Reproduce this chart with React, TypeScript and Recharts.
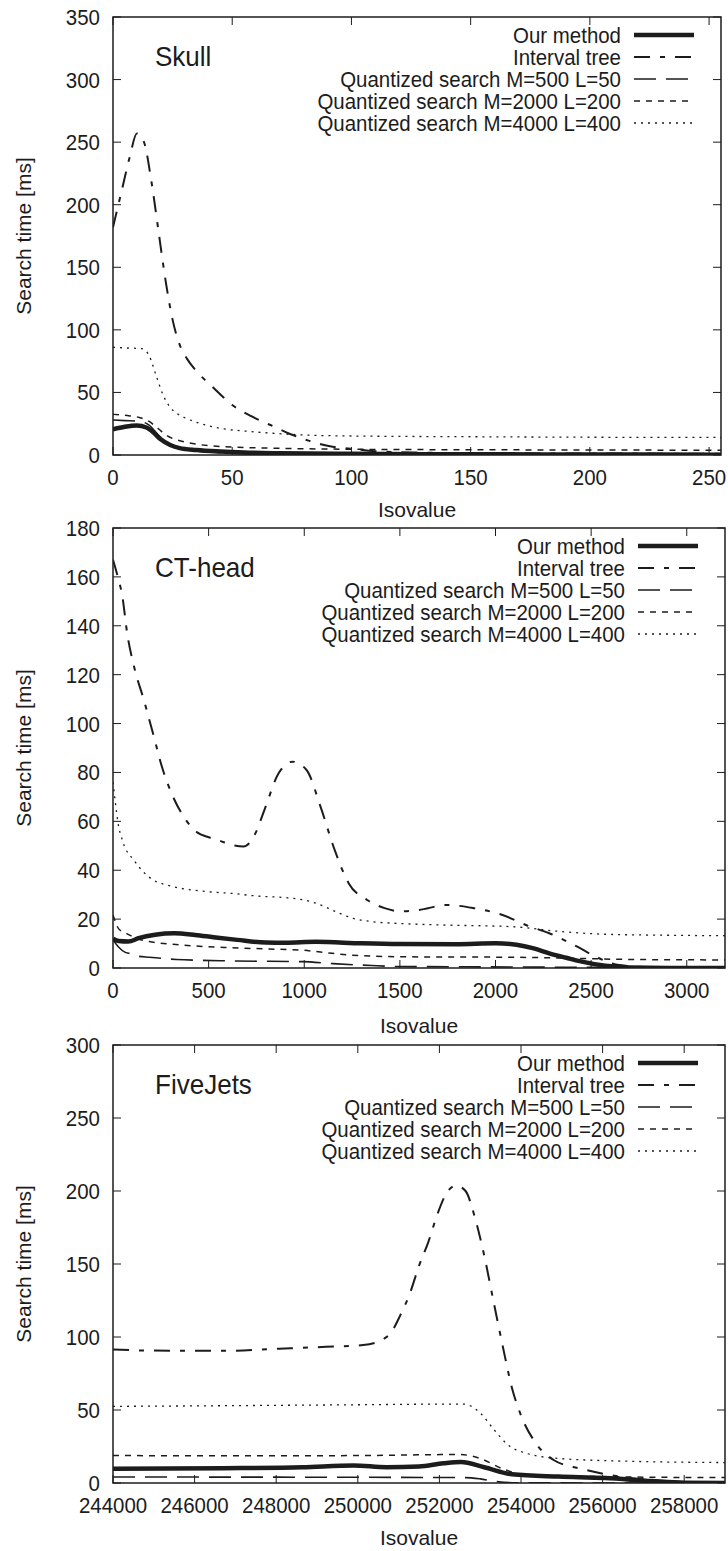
import React from 'react';
import { LineChart, Line, XAxis, YAxis, Legend, ReferenceArea } from 'recharts';

const FONT = "'Liberation Sans', Arial, Helvetica, sans-serif";
const INK = '#1c1c1c';

type Pt = [number, number];

// series names, same order in every panel
const NAMES = [
  'Our method',
  'Interval tree',
  'Quantized search M=500 L=50',
  'Quantized search M=2000 L=200',
  'Quantized search M=4000 L=400',
];

// ---- Skull
const skullOurs: Pt[] = [[0, 20.5], [5, 22.5], [10, 23.5], [14, 22], [17, 18], [20, 12.5], [24, 8], [28, 5.5], [35, 4], [45, 2.8], [55, 2], [70, 1.4], [100, 0.9], [150, 0.6], [200, 0.4], [255, 0.3]];
const skullTree: Pt[] = [[0, 182], [3.5, 210], [7, 238], [10, 257], [13, 250], [16, 220], [19, 180], [22, 140], [25, 108], [28, 88], [31, 77], [35, 67], [42, 54], [50, 40], [58, 31], [66, 24], [74, 17], [82, 11.5], [91, 7], [100, 5], [110, 3], [125, 2], [150, 1.5], [200, 1.2], [255, 1]];
const skullQ500: Pt[] = [[0, 28], [5, 27.5], [11, 27], [15, 24], [19, 16], [23, 9], [28, 5], [35, 3], [45, 1.8], [60, 1], [100, 0.6], [255, 0.3]];
const skullQ2000: Pt[] = [[0, 32.5], [6, 31.5], [11, 30], [15, 27], [19, 21], [23, 15], [27, 12], [31, 10], [40, 7.5], [55, 6], [70, 5.3], [100, 4.6], [150, 4.2], [200, 4], [255, 3.8]];
const skullQ4000: Pt[] = [[0, 86], [6, 85.5], [12, 85], [15, 80], [18, 64], [21, 48], [24, 38], [27, 33], [31, 29], [36, 25.5], [46, 21], [56, 19], [66, 17.5], [80, 16], [100, 15.2], [150, 14.6], [200, 14.2], [255, 14]];

// ---- CT-head
const ctOurs: Pt[] = [[0, 12], [30, 11], [80, 10.8], [134, 12.2], [220, 13.6], [320, 14.2], [430, 13.5], [525, 12.6], [650, 11.5], [800, 10.4], [900, 10.3], [1060, 10.7], [1300, 10.1], [1500, 9.8], [1793, 9.7], [2000, 10.1], [2110, 9.5], [2200, 8], [2281, 6], [2370, 4.2], [2452, 2.6], [2574, 0.9], [2700, 0.2], [2900, 0], [3200, 0]];
const ctTree: Pt[] = [[0, 167], [25, 160], [49, 152], [74, 137], [111, 123], [160, 110], [209, 96], [257, 82], [306, 71.5], [377, 61], [440, 55.5], [500, 53.5], [560, 52], [622, 50.3], [683, 49.7], [744, 55], [792, 64.7], [866, 79.7], [939, 84.4], [1012, 81], [1085, 66], [1159, 48.3], [1232, 34.7], [1329, 27.8], [1420, 24.5], [1500, 23.2], [1598, 23.7], [1744, 25.8], [1890, 24.4], [2037, 21.7], [2159, 17.6], [2281, 14.2], [2428, 8.7], [2525, 4.6], [2647, 1.2], [2800, 0.4], [3200, 0.2]];
const ctQ500: Pt[] = [[0, 11.5], [30, 8.5], [62, 6.5], [84, 6], [134, 4.8], [190, 4.4], [330, 3.5], [622, 2.9], [988, 2.6], [1150, 1.8], [1353, 1], [1500, 0.6], [1840, 0.5], [2400, 0.3], [3200, 0.2]];
const ctQ2000: Pt[] = [[0, 21.7], [30, 16], [62, 14.5], [134, 11.8], [190, 10.8], [330, 9.6], [450, 8.9], [622, 8.3], [800, 7.8], [988, 7.3], [1100, 6.4], [1236, 5.3], [1500, 4.6], [2086, 4.4], [2400, 4], [2695, 3.5], [3200, 3.3]];
const ctQ4000: Pt[] = [[0, 76], [12, 68], [25, 60], [50, 52], [110, 44], [210, 36], [280, 34], [330, 33], [500, 31.2], [625, 30.5], [744, 29.5], [900, 28.8], [964, 28.3], [1040, 27], [1110, 25], [1180, 22.5], [1256, 20.3], [1350, 19], [1500, 18.2], [1720, 17.6], [2086, 16.9], [2330, 15], [2574, 13.8], [2900, 13.4], [3200, 13.2]];

// ---- FiveJets
const fjOurs: Pt[] = [[244000, 9.7], [246700, 10.1], [248645, 10.8], [249900, 12], [250700, 10.8], [251500, 11.3], [252100, 13.5], [252527, 14.4], [253097, 10.8], [253782, 6], [254921, 4.4], [256063, 3.4], [257206, 1.3], [258000, 0.2], [259000, 0]];
const fjTree: Pt[] = [[244000, 91.5], [244900, 90.7], [246700, 90.5], [248076, 92], [249218, 93.3], [250130, 94.5], [250588, 98], [250814, 103], [251043, 115], [251272, 129.5], [251500, 148.7], [251728, 165], [251956, 184.5], [252184, 199], [252412, 203.7], [252641, 200], [252869, 182], [253097, 156], [253325, 124.6], [253554, 93.5], [253782, 64.8], [254010, 45.6], [254353, 27.7], [254810, 15.6], [255496, 9.6], [256292, 4.9], [257206, 2], [258100, 0.6], [259000, 0.5]];
const fjQ500: Pt[] = [[244000, 4.1], [248000, 4], [252641, 3.7], [253000, 2.8], [253325, 1.3], [253900, 0.1], [259000, 0]];
const fjQ2000: Pt[] = [[244000, 18.8], [248000, 18.6], [250000, 18.8], [252500, 19.5], [253000, 16.8], [253554, 9.7], [254010, 6], [255000, 4.8], [256000, 4.3], [259000, 3.7]];
const fjQ4000: Pt[] = [[244000, 52.5], [246000, 52.8], [248000, 53.2], [250000, 53.6], [252000, 54], [252600, 54], [253000, 48], [253325, 37], [253667, 26.4], [254124, 20.4], [254921, 16.8], [256633, 14.9], [259000, 14]];

// axis ticks
const skullXTicks = [0, 50, 100, 150, 200, 250];
const skullYTicks = [0, 50, 100, 150, 200, 250, 300, 350];
const ctXTicks = [0, 500, 1000, 1500, 2000, 2500, 3000];
const ctYTicks = [0, 20, 40, 60, 80, 100, 120, 140, 160, 180];
const fjXTicks = [244000, 246000, 248000, 250000, 252000, 254000, 256000, 258000];
const fjYTicks = [0, 50, 100, 150, 200, 250, 300];

const STYLES = [
  { width: 4.5, dash: undefined as string | undefined },
  { width: 2, dash: '16 10 5 10' },
  { width: 1.6, dash: '22 10' },
  { width: 1.5, dash: '6 6' },
  { width: 1.3, dash: '2 5' },
];

const toRows = (pts: Pt[]) => pts.map(([x, y]) => ({ x, y }));

// gnuplot-ish narrow text
function T({ x, y, anchor, size = 22, children }: { x: number; y: number; anchor?: 'start' | 'middle' | 'end'; size?: number; children: React.ReactNode }) {
  return (
    <text
      transform={`translate(${x} ${y}) scale(0.93 1)`}
      textAnchor={anchor}
      fontSize={size}
      fill={INK}
      fontFamily={FONT}
    >
      {children}
    </text>
  );
}

interface PanelProps {
  title: string;
  top: number;
  height: number;
  plotTop: number;
  plotBottom: number;
  right: number;
  xDomain: [number, number];
  xTicks: number[];
  yTicks: number[];
  labelOffset: number;
  series: Pt[][];
}

function Panel(p: PanelProps) {
  const relTop = p.plotTop - p.top;
  const relBottom = p.plotBottom - p.top;
  const yMax = p.yTicks[p.yTicks.length - 1];

  const xTick = (props: any) => {
    const { x, y, payload } = props;
    return (
      <g>
        <line x1={x} x2={x} y1={y} y2={y - 8} stroke={INK} strokeWidth={1} />
        <line x1={x} x2={x} y1={relTop} y2={relTop + 8} stroke={INK} strokeWidth={1} />
        <T x={x} y={y + 30} anchor="middle">{payload.value}</T>
      </g>
    );
  };

  const yTick = (props: any) => {
    const { x, y, payload } = props;
    return (
      <g>
        <line x1={x} x2={x + 8} y1={y} y2={y} stroke={INK} strokeWidth={1} />
        <line x1={p.right} x2={p.right - 8} y1={y} y2={y} stroke={INK} strokeWidth={1} />
        <T x={x - 13} y={y + 8} anchor="end">{payload.value}</T>
      </g>
    );
  };

  const legend = () => (
    <svg width={728} height={relTop + 140} style={{ display: 'block' }}>
      {NAMES.map((name, i) => {
        const y = relTop + 18 + i * 22;
        return (
          <g key={name}>
            <T x={p.right - 100} y={y + 8} anchor="end">{name}</T>
            <line
              x1={p.right - 87}
              x2={p.right - 27}
              y1={y}
              y2={y}
              stroke={INK}
              strokeWidth={STYLES[i].width}
              strokeDasharray={STYLES[i].dash}
            />
          </g>
        );
      })}
    </svg>
  );

  return (
    <div style={{ position: 'absolute', left: 0, top: p.top, width: 728, height: p.height }}>
      <LineChart
        width={728}
        height={p.height}
        margin={{ top: relTop, right: 728 - p.right, bottom: 0, left: 0 }}
      >
        <XAxis
          type="number"
          dataKey="x"
          domain={p.xDomain}
          ticks={p.xTicks}
          interval={0}
          allowDataOverflow
          height={p.height - relBottom}
          axisLine={false}
          tickLine={false}
          tickSize={0}
          tickMargin={0}
          tick={xTick}
          label={{ value: 'Isovalue', position: 'insideBottom', offset: p.labelOffset, fontSize: 21, fill: INK, fontFamily: FONT }}
        />
        <YAxis
          type="number"
          domain={[0, yMax]}
          ticks={p.yTicks}
          interval={0}
          allowDataOverflow
          width={113}
          axisLine={false}
          tickLine={false}
          tickSize={0}
          tickMargin={0}
          tick={yTick}
          label={{
            value: 'Search time [ms]',
            angle: -90,
            position: 'insideLeft',
            offset: 24,
            fontSize: 21,
            fill: INK,
            fontFamily: FONT,
            style: { textAnchor: 'middle' },
          }}
        />
        <ReferenceArea
          x1={p.xDomain[0]}
          x2={p.xDomain[1]}
          y1={0}
          y2={yMax}
          fill="none"
          fillOpacity={0}
          stroke={INK}
          strokeWidth={1.5}
        />
        {p.series.map((pts, i) => (
          <Line
            key={NAMES[i]}
            name={NAMES[i]}
            data={toRows(pts)}
            dataKey="y"
            type="monotone"
            stroke={INK}
            strokeWidth={STYLES[i].width}
            strokeDasharray={STYLES[i].dash}
            dot={false}
            activeDot={false}
            isAnimationActive={false}
          />
        ))}
        <Legend
          layout="vertical"
          align="center"
          verticalAlign="middle"
          wrapperStyle={{ top: 0, left: 0, width: 728, pointerEvents: 'none' }}
          content={legend}
        />
      </LineChart>
      <svg
        width={300}
        height={relTop + 70}
        style={{ position: 'absolute', left: 0, top: 0, pointerEvents: 'none' }}
      >
        <T x={155} y={relTop + 49} size={28}>{p.title}</T>
      </svg>
    </div>
  );
}

export default function App() {
  return (
    <div style={{ position: 'absolute', left: 0, top: 0, width: 728, height: 1551, background: '#fff' }}>
      <Panel
        title="Skull"
        top={0}
        height={525}
        plotTop={17}
        plotBottom={455}
        right={721}
        xDomain={[0, 255]}
        xTicks={skullXTicks}
        yTicks={skullYTicks}
        labelOffset={8}
        series={[skullOurs, skullTree, skullQ500, skullQ2000, skullQ4000]}
      />
      <Panel
        title="CT-head"
        top={505}
        height={535}
        plotTop={528}
        plotBottom={968}
        right={725}
        xDomain={[0, 3200]}
        xTicks={ctXTicks}
        yTicks={ctYTicks}
        labelOffset={7}
        series={[ctOurs, ctTree, ctQ500, ctQ2000, ctQ4000]}
      />
      <Panel
        title="FiveJets"
        top={1030}
        height={521}
        plotTop={1045}
        plotBottom={1483}
        right={725}
        xDomain={[244000, 259000]}
        xTicks={fjXTicks}
        yTicks={fjYTicks}
        labelOffset={6}
        series={[fjOurs, fjTree, fjQ500, fjQ2000, fjQ4000]}
      />
    </div>
  );
}
